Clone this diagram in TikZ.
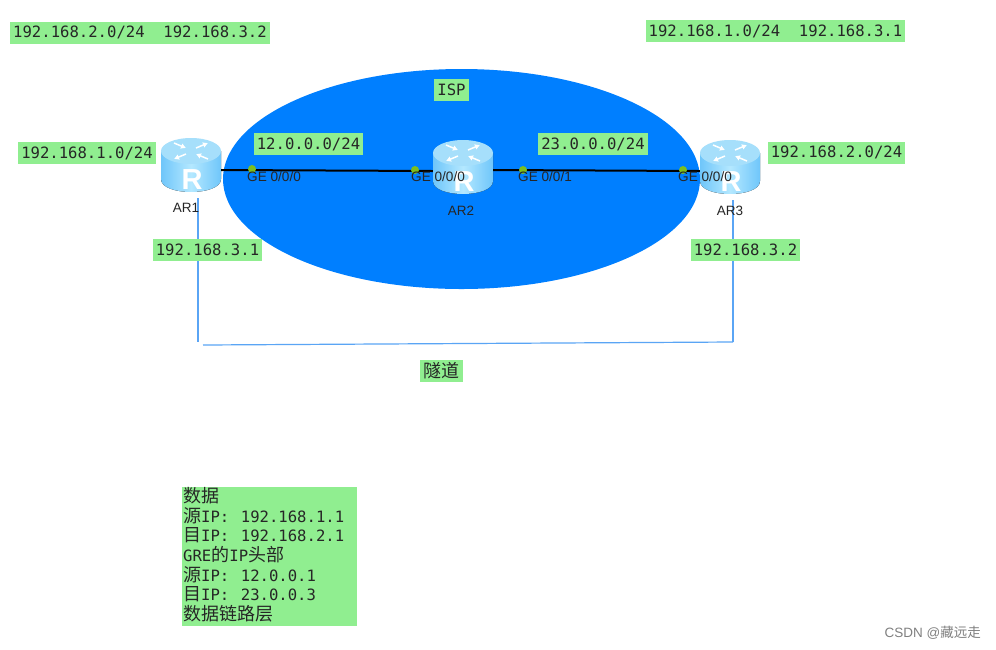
\documentclass[tikz,border=0pt]{standalone}
\usepackage{fontspec}
\setmainfont{Liberation Sans}
\setmonofont{DejaVu Sans Mono}
\newfontfamily\cjk{Noto Sans CJK SC}
\usetikzlibrary{positioning,calc,arrows.meta,shapes.geometric}
\newcommand{\Zh}[1]{{\fontsize{18}{19.7}\selectfont\cjk #1}}
\newcommand{\IpTag}{IP:\hspace{11.5pt}}
\def\RouterWidth{60pt}
\def\RouterHeight{54pt}
\definecolor{LabelGreen}{HTML}{90EE90}
\definecolor{IspBlue}{HTML}{007FFF}
\definecolor{TunnelBlue}{HTML}{5AA5F5}
\definecolor{PortGreen}{HTML}{7DBE1E}
\definecolor{RouterTop}{HTML}{A6DFFB}
\definecolor{RouterSide}{HTML}{6FC6FA}
\definecolor{RouterMid}{HTML}{B4E8FF}
\tikzset{
  x=1pt,y=-1pt,
  addr/.style={
    fill=LabelGreen,
    text=black!85,
    inner xsep=3pt,
    inner ysep=0pt,
    minimum height=22pt,
    font=\fontsize{15.6}{19.7}\selectfont\ttfamily
  },
  router/.style={
    minimum width=\RouterWidth,
    minimum height=\RouterHeight,
    inner sep=0pt
  },
  port/.style={circle,fill=PortGreen,minimum size=8pt,inner sep=0pt},
  portname/.style={font=\fontsize{13.6}{15}\selectfont,text=black!85,inner sep=0pt},
  hostname/.style={font=\fontsize{13.5}{15}\selectfont,text=black!85,inner sep=0pt},
  link/.style={line width=2pt,black},
  tunnel/.style={line width=1.2pt,TunnelBlue},
  chevron/.style={white,line width=1.5pt,-{Latex[length=5pt,width=6pt]}},
  routerpic/.pic={
    \fill[left color=RouterSide,right color=RouterSide,middle color=RouterMid]
      (-30,-14) -- (-30,14) .. controls (-30,31.3) and (30,31.3) .. (30,14) -- (30,-14) -- cycle;
    \fill[RouterTop] (0,-14) ellipse [x radius=30,y radius=13];
    \draw[chevron] (-5,-11) -- (-17,-6);
    \draw[chevron] (5,-17) -- (17,-22);
    \draw[chevron] (-17,-22) -- (-5,-17);
    \draw[chevron] (17,-6) -- (5,-11);
    \node[white,inner sep=0pt,font=\fontsize{29}{29}\selectfont\bfseries] (-R) at (1,15) {R};
  }
}
\begin{document}
\begin{tikzpicture}
  \useasboundingbox[fill=white] (0,0) rectangle (996,649);

  \node[ellipse,fill=IspBlue,minimum width=477pt,minimum height=220pt,inner sep=0pt] (isp) at (461.5,179) {};

  % Routers, with the corners of the tunnel below them.
  \node[router] (AR1) at (191,165) {};
  \node[router] (AR2) at (463,167) {};
  \node[router] (AR3) at (730,167) {};
  \pic (AR1pic) at (AR1) {routerpic};
  \pic (AR2pic) at (AR2) {routerpic};
  \pic (AR3pic) at (AR3) {routerpic};
  \coordinate (tunnelA) at (198,342);
  \coordinate (tunnelB) at (203,345);
  \coordinate (tunnelC) at (733,342);

  \draw[link] ([yshift=-5pt]AR1.east) -- ([yshift=-4pt]AR2.west);
  \draw[link] ([yshift=-3pt]AR2.east) -- ([yshift=-4pt]AR3.west);
  \draw[tunnel] ([xshift=7pt,yshift=-6pt]AR1.south) -- (tunnelA);
  \draw[tunnel] (tunnelB) -- (tunnelC);
  \draw[tunnel] (tunnelC) -- ([xshift=3pt,yshift=-6pt]AR3.south);

  \node[port] (p1) at (252,169) {};
  \node[port] (p2) at (415,170) {};
  \node[port] (p3) at (523,170) {};
  \node[port] (p4) at (683,170) {};
  \node[portname,anchor=west] (g1) at (247,176.5) {GE 0/0/0};
  \node[portname,anchor=west] (g2) at (411,176.5) {GE 0/0/0};
  \node[portname,anchor=west] (g3) at (518,177) {GE 0/0/1};
  \node[portname,anchor=west] (g4) at (678,177) {GE 0/0/0};

  \node[hostname] (n1) at (186,208) {AR1};
  \node[hostname] (n2) at (461,211) {AR2};
  \node[hostname] (n3) at (730,211) {AR3};

  \node[addr] (a1) at (140,32.5) {192.168.2.0/24~~192.168.3.2};
  \node[addr] (a2) at (775.5,31) {192.168.1.0/24~~192.168.3.1};
  \node[addr] (a3) at (87,153) {192.168.1.0/24};
  \node[addr] (a4) at (836.5,152.5) {192.168.2.0/24};
  \node[addr] (a5) at (308.5,144) {12.0.0.0/24};
  \node[addr] (a6) at (593,144) {23.0.0.0/24};
  \node[addr] (a7) at (451.5,90) {ISP};
  \node[addr] (a8) at (207.5,250) {192.168.3.1};
  \node[addr] (a9) at (745.5,250) {192.168.3.2};
  \node[addr,minimum width=43pt] (tn) at (441.5,371) {\raisebox{2pt}{\Zh{隧道}}};

  \node[addr,anchor=north west,align=left,text width=173pt,minimum height=138pt,inner xsep=1pt] (data) at (182,487) {%
    \Zh{数据}\\
    \Zh{源}\IpTag 192.168.1.1\\
    \Zh{目}\IpTag 192.168.2.1\\
    GRE\Zh{的}IP\Zh{头部}\\
    \Zh{源}\IpTag 12.0.0.1\\
    \Zh{目}\IpTag 23.0.0.3\\
    \Zh{数据链路层}\par\vspace{4pt}};

  \node[anchor=east,inner sep=0pt,text=black!50,font=\fontsize{13.5}{15}\selectfont] (mark) at (981,633) {CSDN @{\cjk 藏远走}};
\end{tikzpicture}
\end{document}
